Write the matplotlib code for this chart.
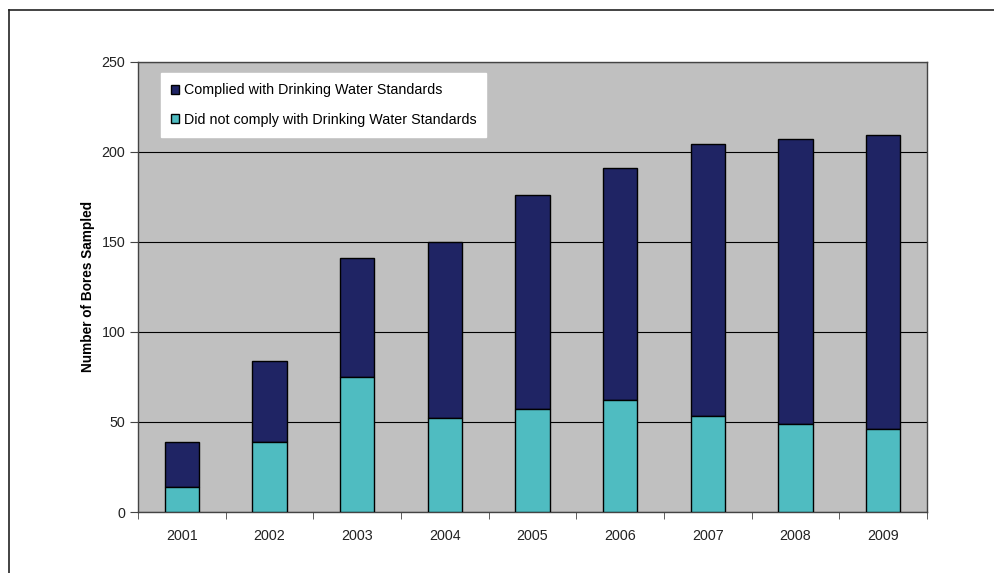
"""
Bores sampled per year, split by drinking water compliance.
"""

import matplotlib.pyplot as plt
import numpy as np

YEARS = ['2001', '2002', '2003', '2004', '2005', '2006', '2007', '2008', '2009']
NOT_COMPLIED = [14, 39, 75, 52, 57, 62, 53, 49, 46]
COMPLIED = [25, 45, 66, 98, 119, 129, 151, 158, 163]

NAVY = '#1f2464'
CYAN = '#4fbcc1'
GREY = '#c0c0c0'

plt.rcParams['font.family'] = ['Liberation Sans', 'DejaVu Sans']

fig = plt.figure(figsize=(9.95, 5.73), dpi=100)
ax = fig.add_axes([138 / 995, 1 - 512 / 573, (927 - 138) / 995, (512 - 61.5) / 573])

# outer chart border (only left and top are inside the picture)
fig.add_artist(plt.Line2D([9 / 995, 9 / 995], [0, 1 - 10 / 573], color='#222222', lw=1.2))
fig.add_artist(plt.Line2D([9 / 995, 1], [1 - 10 / 573, 1 - 10 / 573], color='#222222', lw=1.2))

x = np.arange(len(YEARS))
ax.set_facecolor(GREY)
ax.bar(x, COMPLIED, 0.39, bottom=NOT_COMPLIED, color=NAVY, edgecolor='black',
       linewidth=1, label='Complied with Drinking Water Standards', zorder=3)
ax.bar(x, NOT_COMPLIED, 0.39, color=CYAN, edgecolor='black', linewidth=1,
       label='Did not comply with Drinking Water Standards', zorder=3)

ax.set_ylim(0, 250)
ax.set_xlim(-0.5, len(YEARS) - 0.5)
ax.set_yticks(range(0, 251, 50))
ax.yaxis.grid(True, color='black', lw=0.8, zorder=1)
ax.set_axisbelow(True)

ax.set_xticks(x)
ax.set_xticklabels(YEARS)
ax.set_xticks(np.arange(-0.5, len(YEARS)), minor=True)
ax.tick_params(axis='x', which='major', length=0, pad=12, labelsize=10.3, colors='#222222')
ax.tick_params(axis='x', which='minor', length=5, direction='out', color='#444444')
ax.tick_params(axis='y', length=6, direction='out', pad=3, labelsize=10.3,
               colors='#222222', color='#444444')
for s in ax.spines.values():
    s.set_color('#444444')
    s.set_linewidth(1)

ax.set_ylabel('Number of Bores Sampled', fontsize=9.8, fontweight='bold', labelpad=5)

handles, labels = ax.get_legend_handles_labels()
leg = ax.legend(handles, labels, loc='upper left', bbox_to_anchor=(0.029, 0.974),
                fontsize=10.3, frameon=True, fancybox=False, framealpha=1,
                handlelength=0.6, handleheight=0.6, handletextpad=0.3,
                labelspacing=1.1, borderpad=0.7, borderaxespad=0)
leg.get_frame().set_edgecolor('white')
leg.get_frame().set_facecolor('white')

fig.savefig('out.png', dpi=100)
